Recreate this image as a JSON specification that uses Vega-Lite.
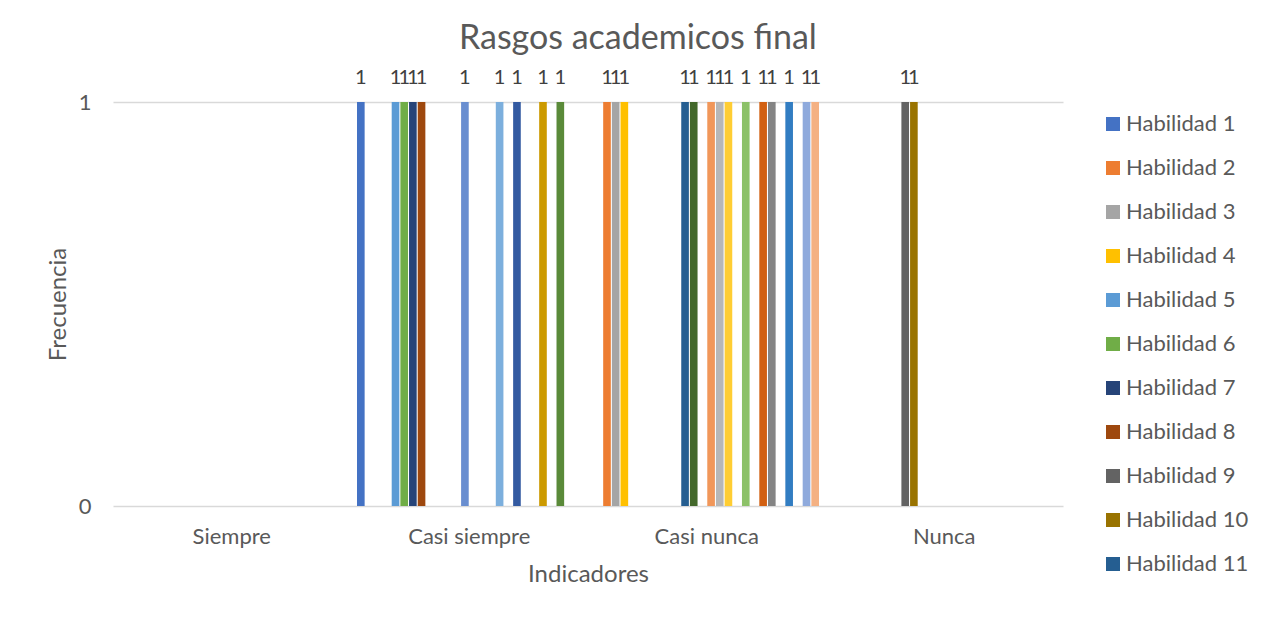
{
  "$schema": "https://vega.github.io/schema/vega-lite/v6.json",
  "width": 950,
  "height": 404,
  "autosize": {"type": "none"},
  "padding": {"left": 113, "top": 102, "right": 213, "bottom": 118},
  "background": "white",
  "title": {
    "text": "Rasgos academicos final",
    "font": "Lato",
    "fontSize": 34,
    "fontWeight": "normal",
    "color": "#595959",
    "anchor": "start",
    "frame": "group",
    "dx": 346,
    "offset": 12
  },
  "config": {
    "view": {"stroke": null},
    "font": "Lato",
    "axis": {
      "labelFont": "Lato",
      "titleFont": "Lato",
      "labelColor": "#595959",
      "titleColor": "#595959",
      "titleFontWeight": "normal",
      "labelFontSize": 22,
      "titleFontSize": 24
    },
    "legend": {"labelFont": "Lato", "labelColor": "#595959", "labelFontSize": 22}
  },
  "data": {
    "values": [
      {"Indicador": "Casi siempre", "Habilidad": "Habilidad 1", "Frecuencia": 1},
      {"Indicador": "Casi nunca", "Habilidad": "Habilidad 2", "Frecuencia": 1},
      {"Indicador": "Casi nunca", "Habilidad": "Habilidad 3", "Frecuencia": 1},
      {"Indicador": "Casi nunca", "Habilidad": "Habilidad 4", "Frecuencia": 1},
      {"Indicador": "Casi siempre", "Habilidad": "Habilidad 5", "Frecuencia": 1},
      {"Indicador": "Casi siempre", "Habilidad": "Habilidad 6", "Frecuencia": 1},
      {"Indicador": "Casi siempre", "Habilidad": "Habilidad 7", "Frecuencia": 1},
      {"Indicador": "Casi siempre", "Habilidad": "Habilidad 8", "Frecuencia": 1},
      {"Indicador": "Nunca", "Habilidad": "Habilidad 9", "Frecuencia": 1},
      {"Indicador": "Nunca", "Habilidad": "Habilidad 10", "Frecuencia": 1},
      {"Indicador": "Casi nunca", "Habilidad": "Habilidad 11", "Frecuencia": 1},
      {"Indicador": "Casi nunca", "Habilidad": "Habilidad 12", "Frecuencia": 1},
      {"Indicador": "Casi siempre", "Habilidad": "Habilidad 13", "Frecuencia": 1},
      {"Indicador": "Casi nunca", "Habilidad": "Habilidad 14", "Frecuencia": 1},
      {"Indicador": "Casi nunca", "Habilidad": "Habilidad 15", "Frecuencia": 1},
      {"Indicador": "Casi nunca", "Habilidad": "Habilidad 16", "Frecuencia": 1},
      {"Indicador": "Casi siempre", "Habilidad": "Habilidad 17", "Frecuencia": 1},
      {"Indicador": "Casi nunca", "Habilidad": "Habilidad 18", "Frecuencia": 1},
      {"Indicador": "Casi siempre", "Habilidad": "Habilidad 19", "Frecuencia": 1},
      {"Indicador": "Casi nunca", "Habilidad": "Habilidad 20", "Frecuencia": 1},
      {"Indicador": "Casi nunca", "Habilidad": "Habilidad 21", "Frecuencia": 1},
      {"Indicador": "Casi siempre", "Habilidad": "Habilidad 22", "Frecuencia": 1},
      {"Indicador": "Casi nunca", "Habilidad": "Habilidad 23", "Frecuencia": 1},
      {"Indicador": "Casi siempre", "Habilidad": "Habilidad 24", "Frecuencia": 1},
      {"Indicador": "Casi nunca", "Habilidad": "Habilidad 25", "Frecuencia": 1},
      {"Indicador": "Casi nunca", "Habilidad": "Habilidad 26", "Frecuencia": 1}
    ]
  },
  "encoding": {
    "x": {
      "field": "Indicador",
      "type": "nominal",
      "scale": {"domain": ["Siempre", "Casi siempre", "Casi nunca", "Nunca"], "paddingInner": 0, "paddingOuter": 0},
      "axis": {
        "title": "Indicadores",
        "labelAngle": 0,
        "ticks": false,
        "domain": false,
        "labelPadding": 20,
        "titlePadding": 15
      }
    },
    "xOffset": {
      "field": "Habilidad",
      "type": "nominal",
      "scale": {
        "domain": ["Habilidad 1", "Habilidad 2", "Habilidad 3", "Habilidad 4", "Habilidad 5", "Habilidad 6", "Habilidad 7", "Habilidad 8", "Habilidad 9", "Habilidad 10", "Habilidad 11", "Habilidad 12", "Habilidad 13", "Habilidad 14", "Habilidad 15", "Habilidad 16", "Habilidad 17", "Habilidad 18", "Habilidad 19", "Habilidad 20", "Habilidad 21", "Habilidad 22", "Habilidad 23", "Habilidad 24", "Habilidad 25", "Habilidad 26"],
        "paddingInner": 0.12,
        "paddingOuter": 0.75
      }
    },
    "y": {
      "field": "Frecuencia",
      "type": "quantitative",
      "scale": {"domain": [0, 1], "nice": false},
      "axis": {
        "title": "Frecuencia",
        "values": [0, 1],
        "format": "d",
        "ticks": false,
        "domain": false,
        "grid": true,
        "gridColor": "#D9D9D9",
        "gridWidth": 1.5,
        "labelPadding": 22,
        "titlePadding": 8
      }
    }
  },
  "layer": [
    {
      "mark": {"type": "bar"},
      "encoding": {
        "color": {
          "field": "Habilidad",
          "type": "nominal",
          "scale": {
            "domain": ["Habilidad 1", "Habilidad 2", "Habilidad 3", "Habilidad 4", "Habilidad 5", "Habilidad 6", "Habilidad 7", "Habilidad 8", "Habilidad 9", "Habilidad 10", "Habilidad 11", "Habilidad 12", "Habilidad 13", "Habilidad 14", "Habilidad 15", "Habilidad 16", "Habilidad 17", "Habilidad 18", "Habilidad 19", "Habilidad 20", "Habilidad 21", "Habilidad 22", "Habilidad 23", "Habilidad 24", "Habilidad 25", "Habilidad 26"],
            "range": ["#4472C4", "#ED7D31", "#A5A5A5", "#FFC000", "#5B9BD5", "#70AD47", "#264478", "#9E480E", "#636363", "#997300", "#255E91", "#43682B", "#698ED0", "#F1975A", "#B7B7B7", "#FFCD33", "#7CAFDD", "#8CC168", "#335AA1", "#D26012", "#848484", "#CC9A00", "#327DC2", "#5A8A39", "#8FAADC", "#F4B183"]
          },
          "legend": {
            "title": null,
            "orient": "none",
            "legendX": 989,
            "legendY": 11,
            "values": ["Habilidad 1", "Habilidad 2", "Habilidad 3", "Habilidad 4", "Habilidad 5", "Habilidad 6", "Habilidad 7", "Habilidad 8", "Habilidad 9", "Habilidad 10", "Habilidad 11"],
            "symbolType": "square",
            "symbolSize": 196,
            "symbolStrokeWidth": 0,
            "labelOffset": 2,
            "rowPadding": 22
          }
        }
      }
    },
    {
      "mark": {"type": "text", "fontSize": 20, "color": "#404040", "baseline": "alphabetic", "dy": -18},
      "encoding": {
        "text": {"field": "Frecuencia", "type": "quantitative", "format": "d"}
      }
    }
  ]
}
